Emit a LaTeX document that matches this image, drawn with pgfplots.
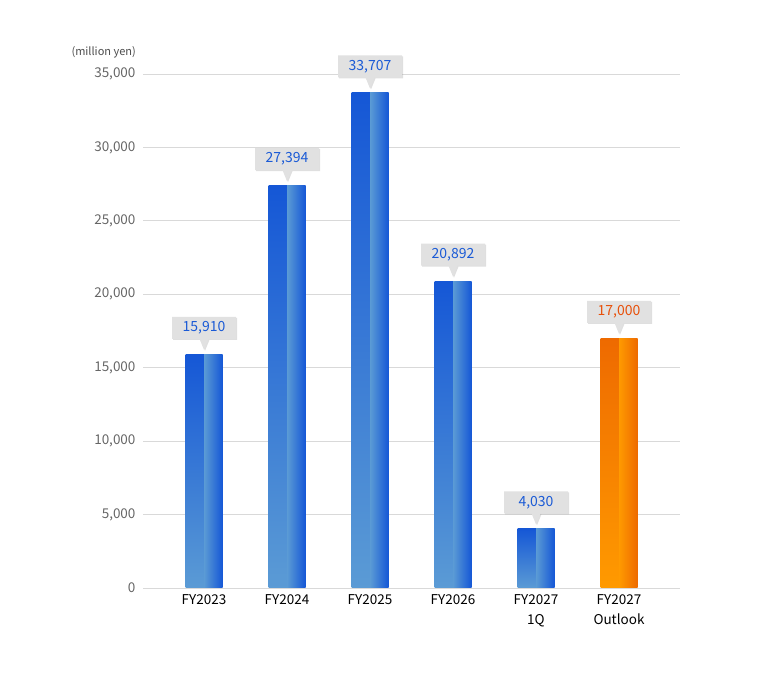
\documentclass[border=0pt]{standalone}
\usepackage{fontspec}
\setmainfont{Noto Sans CJK JP}
\usepackage{pgfplots}
\pgfplotsset{compat=1.18}
\usetikzlibrary{shapes.callouts,shadows}
\definecolor{bdark}{HTML}{1557D6}
\definecolor{blight}{HTML}{5B9BD5}
\definecolor{odark}{HTML}{EE6A00}
\definecolor{olight}{HTML}{FF9A00}
\definecolor{lblue}{HTML}{1A5AD6}
\definecolor{lorange}{HTML}{E8500A}
\definecolor{gridc}{HTML}{D9D9D9}
\definecolor{tickc}{HTML}{666666}
\definecolor{boxc}{HTML}{E1E1E1}
\begin{document}
\begin{tikzpicture}
\path (0,0) rectangle (769bp,679bp);
\begin{axis}[
  at={(143bp,91bp)}, anchor=south west,
  scale only axis, width=537bp, height=514bp,
  xmin=-0.735, xmax=5.735, ymin=0, ymax=35000,
  axis line style={draw=none},
  ytick={0,5000,...,35000},
  ymajorgrids, grid style={gridc, line width=0.8bp},
  major tick length=0pt,
  xtick={0,1,2,3,4,5},
  xticklabels={FY2023,FY2024,FY2025,FY2026,{FY2027\\1Q},{FY2027\\Outlook}},
  xticklabel style={align=center, font=\fontsize{13.5bp}{20bp}\selectfont, text=black, yshift=-3bp},
  yticklabel style={font=\fontsize{13.5bp}{16bp}\selectfont, text=tickc, xshift=-4bp},
  /pgf/number format/assume math mode=true,
  /pgf/number format/1000 sep={,},
  scaled y ticks=false,
  clip=false,
  BL/.style={ybar, bar width=18.5bp, bar shift=-9.25bp, draw=none, top color=bdark, bottom color=blight},
  BR/.style={ybar, bar width=18.5bp, bar shift=9.25bp, draw=none, left color=blight, right color=bdark},
  OL/.style={ybar, bar width=18.5bp, bar shift=-9.25bp, draw=none, top color=odark, bottom color=olight},
  OR/.style={ybar, bar width=18.5bp, bar shift=9.25bp, draw=none, left color=olight, right color=odark},
  lbl/.style={
    draw=none, mark=none, nodes near coords, point meta=explicit symbolic,
    every node near coord/.append style={
      rectangle callout, fill=boxc, anchor=pointer,
      callout relative pointer={(0pt,-11bp)}, callout pointer width=9bp,
      minimum width=64bp, minimum height=22bp, inner sep=0pt,
      font=\fontsize{14bp}{16bp}\selectfont, text=#1, yshift=4bp,
      drop shadow={opacity=0.25, shadow xshift=1bp, shadow yshift=-1bp}
    }
  },
]
\addplot[BL] coordinates {(0,15910)};
\addplot[BR] coordinates {(0,15910)};
\addplot[BL] coordinates {(1,27394)};
\addplot[BR] coordinates {(1,27394)};
\addplot[BL] coordinates {(2,33707)};
\addplot[BR] coordinates {(2,33707)};
\addplot[BL] coordinates {(3,20892)};
\addplot[BR] coordinates {(3,20892)};
\addplot[BL] coordinates {(4,4030)};
\addplot[BR] coordinates {(4,4030)};
\addplot[OL] coordinates {(5,17000)};
\addplot[OR] coordinates {(5,17000)};
% value labels
\addplot[lbl=lblue] coordinates {(0,15910) [15,910] (1,27394) [27,394] (2,33707) [33,707] (3,20892) [20,892] (4,4030) [4,030]};
\addplot[lbl=lorange] coordinates {(5,17000) [17,000]};
\end{axis}
\node[anchor=east, font=\fontsize{11bp}{13bp}\selectfont, text=black!70, inner sep=0pt] at (136bp,627bp) {(million yen)};
\end{tikzpicture}
\end{document}
